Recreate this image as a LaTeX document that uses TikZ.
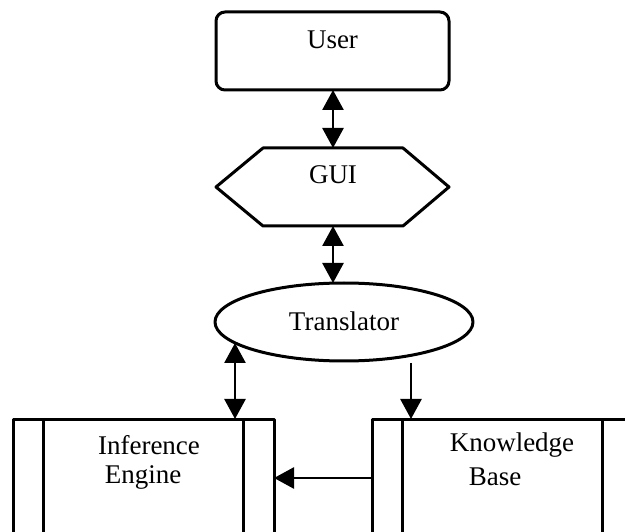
\documentclass[tikz,border=0pt]{standalone}
\usepackage{fontspec}
\setmainfont{Liberation Serif}
\usetikzlibrary{arrows.meta}
\begin{document}
\begin{tikzpicture}[x=1pt,y=-1pt,
  line/.style={line width=3pt,line join=round},
  tip/.tip={Triangle[width=21pt,length=20pt]},
  conn/.style={line width=2.6pt,-tip},
  biconn/.style={line width=2.6pt,tip-tip},
  txt/.style={font=\fontsize{27}{30}\selectfont,inner sep=0pt},
  ghost/.style={draw=none,inner sep=0pt}]
\useasboundingbox (0,0) rectangle (625,532);
\clip (0,0) rectangle (625,532);
% User
\node[line,draw,rounded corners=9pt,minimum width=233pt,minimum height=78pt,inner sep=0pt] (user) at (332.5,51) {};
\node[txt] (usert) at (332.5,40) {User};
% GUI hexagon
\draw[line] (216,187) -- (263,148) -- (403,148) -- (449,187) -- (403,226) -- (263,226) -- cycle;
\node[ghost,minimum width=233pt,minimum height=78pt] (gui) at (332.5,187) {};
\node[txt] (guit) at (333,175) {GUI};
% Translator ellipse
\draw[line] (344,322) ellipse [x radius=129, y radius=39];
\node[txt] (trt) at (344,321) {Translator};
\coordinate (trL) at (235,343);
\coordinate (trR) at (411,363);
% Inference Engine
\draw[line] (13,545) -- (13,419) -- (274,419) -- (274,545);
\draw[line] (43,419) -- (43,545);
\draw[line] (243,419) -- (243,545);
\node[ghost,minimum width=261pt,minimum height=200pt] (ie) at (143.5,519) {};
\node[txt] (iet1) at (149,445) {Inference};
\node[txt] (iet2) at (143,477) {Engine};
% Knowledge Base
\draw[line] (372,545) -- (372,419) -- (640,419);
\draw[line] (402,419) -- (402,545);
\draw[line] (602,419) -- (602,545);
\node[ghost,minimum width=268pt,minimum height=200pt] (kb) at (506,519) {};
\node[txt] (kbt1) at (512,445) {Knowledge};
\node[txt] (kbt2) at (495,477) {Base};
% connectors
\draw[biconn] (333,148) -- (333,90);
\draw[biconn] (333,283) -- (333,226);
\draw[biconn] (trL) -- (235,419);
\draw[conn] (trR) -- (411,419);
\draw[conn] (372,478) -- (274,478);
\end{tikzpicture}
\end{document}
